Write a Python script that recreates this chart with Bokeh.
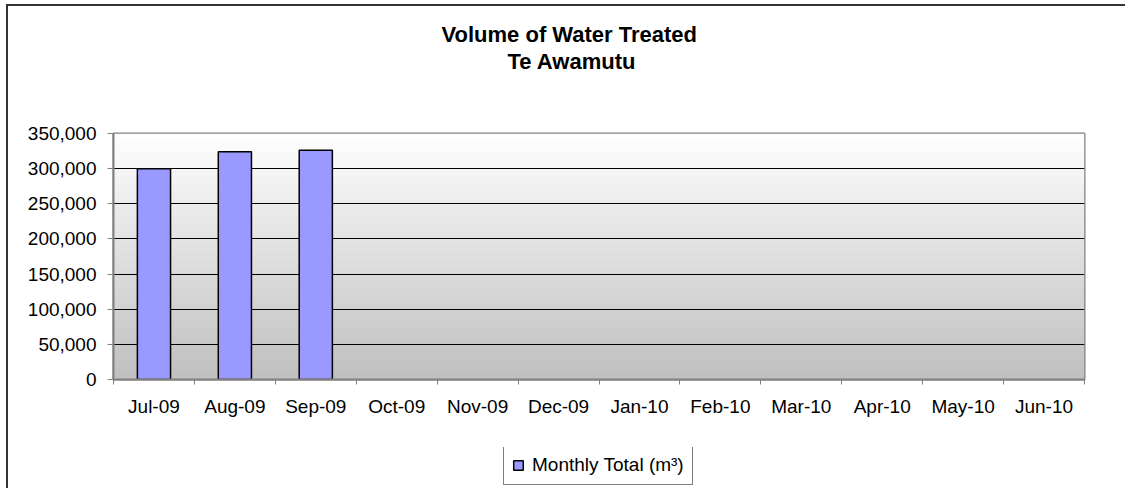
import numpy as np
from bokeh.plotting import figure
from bokeh.layouts import column
from bokeh.models import (Range1d, FixedTicker, NumeralTickFormatter, Legend,
                          LegendItem, Title, LinearAxis, ColumnDataSource)
from bokeh.embed import file_html
from bokeh.resources import INLINE

# ---- data ----
months = ["Jul-09", "Aug-09", "Sep-09", "Oct-09", "Nov-09", "Dec-09",
          "Jan-10", "Feb-10", "Mar-10", "Apr-10", "May-10", "Jun-10"]
monthly_totals = [300000, 324000, 326000]
y_ticks = [0, 50000, 100000, 150000, 200000, 250000, 300000, 350000]
series_name = "Monthly Total (m³)"
title_lines = ["Volume of Water Treated", "Te Awamutu"]

FONT = "Liberation Sans"
BAR_FILL = "#9999FF"
y_max = y_ticks[-1]
n_cat = len(months)

p = figure(width=1117, height=441, output_backend="svg", toolbar_location=None,
           x_range=Range1d(0, n_cat), y_range=Range1d(0, y_max),
           min_border_left=105, min_border_top=127, min_border_right=41,
           min_border_bottom=68)
xa = p.below[0]
ya = p.left[0]
p.background_fill_color = "white"
p.border_fill_color = "white"
p.outline_line_color = "#808080"
p.outline_line_width = 2

# gap between frame and title (axis without visible ticks or labels)
gap = LinearAxis(ticker=FixedTicker(ticks=[0]), major_label_overrides={0: ""},
                 major_tick_out=60, major_tick_in=0, minor_tick_out=0,
                 minor_tick_in=0, axis_line_color=None,
                 major_tick_line_color=None, minor_tick_line_color=None,
                 major_label_standoff=0)
p.add_layout(gap, "above")
# title lines, bottom one first (closest to frame)
title_offsets = [328, 394]
for line, off in reversed(list(zip(title_lines, title_offsets))):
    p.add_layout(Title(text=line, align="left", offset=off, text_font=FONT,
                       text_font_style="bold", text_font_size="22px",
                       text_color="black", standoff=0), "above")

# gradient plot-area background
n = 256
shade = np.linspace(192, 255, n).astype(np.uint8)
img = np.empty((n, 1), dtype=np.uint32)
view = img.view(dtype=np.uint8).reshape((n, 1, 4))
view[:, 0, 0] = shade
view[:, 0, 1] = shade
view[:, 0, 2] = shade
view[:, 0, 3] = 255
p.image_rgba(image=[img], x=0, y=0, dw=n_cat, dh=y_max, level="image")

# bars
src = ColumnDataSource(dict(x=[i + 0.5 for i in range(len(monthly_totals))],
                            top=monthly_totals))
p.vbar(x="x", top="top", width=0.41, source=src,
       fill_color=BAR_FILL, line_color="black", line_width=1.5)

# grid
p.xgrid.visible = False
p.ygrid.ticker = FixedTicker(ticks=y_ticks)
p.ygrid.grid_line_color = "#000000"
p.ygrid.grid_line_width = 1

# x axis
xa.ticker = FixedTicker(ticks=[i + 0.5 for i in range(n_cat)],
                        minor_ticks=list(range(n_cat + 1)))
xa.major_label_overrides = {i + 0.5: m for i, m in enumerate(months)}
xa.major_tick_out = 0
xa.major_tick_in = 0
xa.minor_tick_out = 5
xa.minor_tick_in = 0
xa.minor_tick_line_color = "#808080"
xa.axis_line_color = "#808080"
xa.axis_line_width = 2
xa.major_label_text_font = FONT
xa.major_label_text_font_size = "19px"
xa.major_label_text_color = "black"
xa.major_label_standoff = 11

# y axis
ya.ticker = FixedTicker(ticks=y_ticks)
ya.formatter = NumeralTickFormatter(format="0,0")
ya.major_tick_out = 6
ya.major_tick_in = 0
ya.minor_tick_out = 0
ya.minor_tick_in = 0
ya.major_tick_line_color = "#808080"
ya.axis_line_color = "#808080"
ya.axis_line_width = 2
ya.major_label_text_font = FONT
ya.major_label_text_font_size = "19px"
ya.major_label_text_color = "black"
ya.major_label_standoff = 11

# ---- legend strip ----
lg = figure(width=1117, height=41, output_backend="svg", toolbar_location=None,
            x_axis_location=None, y_axis_location=None,
            x_range=Range1d(0, 1), y_range=Range1d(0, 1),
            min_border=0, min_border_left=0, min_border_right=0,
            min_border_top=0, min_border_bottom=0)
lg.outline_line_color = None
lg.background_fill_color = "white"
lg.border_fill_color = "white"
lg.xgrid.visible = False
lg.ygrid.visible = False
swatch = lg.vbar(x="x", top="top", width=0.41, source=src, visible=False,
                 fill_color=BAR_FILL, line_color="black", line_width=1.5)
legend = Legend(items=[LegendItem(label=series_name, renderers=[swatch])],
                location=(390, 3), orientation="horizontal",
                border_line_color="black", border_line_width=1,
                background_fill_color="white", background_fill_alpha=1,
                label_text_font=FONT, label_text_font_size="19px",
                label_text_color="black",
                glyph_width=12, glyph_height=12, label_standoff=8,
                padding=8, label_height=22, margin=0,
                inactive_fill_alpha=0)
lg.add_layout(legend)

layout = column(p, lg, spacing=0)
layout.styles = {"margin-left": "6px", "margin-top": "4px",
                 "border-left": "2px solid #333333",
                 "border-top": "2px solid #333333"}

open("out.html", "w").write(file_html(layout, INLINE))
